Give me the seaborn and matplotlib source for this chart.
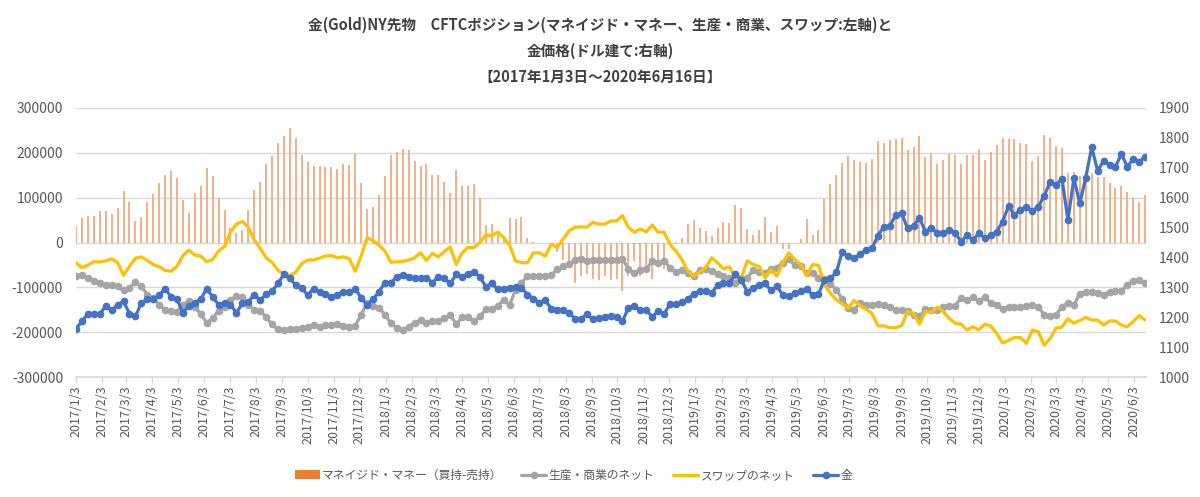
import matplotlib
matplotlib.use('Agg')

import pandas as pd
import matplotlib.pyplot as plt
import seaborn as sns
from matplotlib.patches import Patch
from matplotlib.lines import Line2D

# 週次データ 2017/1/3 ～ 2020/6/16 (181週)
dates = pd.date_range("2017-01-03", periods=181, freq="7D")

# マネイジド・マネー（買持-売持）
money_mgr = [
    35000, 55000, 59000, 59000, 70000, 70000, 64000, 78000, 114000, 90000,
    47000, 56000, 90000, 109000, 133000, 151000, 160000, 143000, 95000, 65000,
    110000, 125000, 166000, 149000, 99000, 73000, 32000, 22000, 28000, 73000,
    118000, 135000, 176000, 193000, 221000, 237000, 255000, 234000, 196000, 179000,
    171000, 170000, 169000, 168000, 165000, 176000, 172000, 197000, 133000, 75000,
    80000, 107000, 148000, 195000, 201000, 209000, 207000, 182000, 171000, 175000,
    150000, 151000, 135000, 111000, 161000, 126000, 125000, 131000, 99000, 38000,
    42000, 17000, 7000, 54000, 52000, 56000, 11000, 1000, 0, -1000,
    -5000, -22000, -38000, -52000, -90000, -75000, -71000, -81000, -83000, -75000,
    -83000, -81000, -109000, -75000, -41000, -75000, -68000, -81000, -38000, -60000,
    -5000, 2000, 10000, 42000, 50000, 32000, 25000, 14000, 32000, 45000,
    43000, 83000, 78000, 31000, 16000, 29000, 57000, 24000, 37000, -15000,
    -15000, 0, 8000, 53000, 16000, 27000, 97000, 130000, 150000, 177000,
    193000, 183000, 180000, 178000, 186000, 226000, 222000, 229000, 230000, 232000,
    206000, 212000, 238000, 190000, 200000, 176000, 185000, 198000, 196000, 176000,
    195000, 195000, 208000, 183000, 201000, 218000, 233000, 230000, 231000, 223000,
    220000, 182000, 194000, 239000, 232000, 215000, 211000, 155000, 157000, 148000,
    150000, 154000, 146000, 146000, 133000, 122000, 126000, 113000, 99000, 90000,
    105000,
]

# 生産・商業のネット
producer_net = [
    -75000, -73000, -79000, -86000, -90000, -94000, -94000, -98000, -107000, -101000,
    -89000, -98000, -116000, -124000, -139000, -150000, -152000, -154000, -139000, -131000,
    -143000, -160000, -179000, -169000, -152000, -143000, -129000, -119000, -122000, -139000,
    -150000, -152000, -167000, -182000, -194000, -195000, -193000, -192000, -191000, -188000,
    -184000, -188000, -184000, -184000, -182000, -186000, -188000, -186000, -161000, -135000,
    -141000, -145000, -161000, -180000, -191000, -195000, -188000, -179000, -173000, -179000,
    -175000, -175000, -169000, -161000, -182000, -167000, -167000, -176000, -165000, -149000,
    -149000, -141000, -128000, -139000, -105000, -90000, -75000, -74000, -74000, -74000,
    -73000, -60000, -53000, -49000, -38000, -36000, -41000, -38000, -38000, -40000,
    -40000, -40000, -36000, -60000, -68000, -62000, -60000, -41000, -45000, -41000,
    -56000, -66000, -62000, -68000, -75000, -62000, -60000, -64000, -71000, -75000,
    -79000, -90000, -79000, -79000, -62000, -65000, -68000, -59000, -56000, -45000,
    -36000, -51000, -53000, -68000, -68000, -79000, -81000, -92000, -105000, -126000,
    -145000, -150000, -135000, -139000, -139000, -137000, -140000, -144000, -150000, -150000,
    -153000, -161000, -165000, -149000, -150000, -150000, -144000, -141000, -141000, -124000,
    -129000, -122000, -131000, -122000, -135000, -139000, -149000, -144000, -143000, -144000,
    -141000, -139000, -143000, -161000, -165000, -161000, -143000, -135000, -139000, -114000,
    -111000, -110000, -113000, -116000, -111000, -109000, -109000, -94000, -85000, -83000,
    -90000,
]

# スワップのネット
swap_net = [
    -45000, -56000, -50000, -43000, -43000, -41000, -36000, -45000, -73000, -53000,
    -35000, -32000, -40000, -49000, -54000, -62000, -64000, -53000, -29000, -17000,
    -28000, -30000, -43000, -38000, -19000, -9000, 23000, 41000, 47000, 34000,
    6000, -13000, -34000, -44000, -62000, -70000, -74000, -66000, -47000, -39000,
    -39000, -35000, -30000, -29000, -34000, -32000, -36000, -64000, -30000, 11000,
    4000, -6000, -19000, -44000, -43000, -42000, -39000, -34000, -23000, -40000,
    -24000, -32000, -20000, -10000, -49000, -23000, -11000, -11000, 0, 17000,
    15000, 23000, 11000, -6000, -41000, -45000, -45000, -23000, -23000, -30000,
    -4000, -11000, 8000, 26000, 34000, 35000, 34000, 45000, 41000, 41000,
    48000, 48000, 60000, 34000, 23000, 30000, 24000, 39000, 23000, 23000,
    -4000, -19000, -38000, -64000, -75000, -66000, -56000, -34000, -45000, -59000,
    -54000, -79000, -79000, -41000, -49000, -53000, -79000, -60000, -75000, -45000,
    -23000, -38000, -49000, -74000, -49000, -51000, -94000, -113000, -128000, -137000,
    -146000, -129000, -141000, -149000, -158000, -186000, -186000, -190000, -190000, -185000,
    -154000, -158000, -182000, -154000, -156000, -144000, -154000, -169000, -180000, -182000,
    -195000, -188000, -195000, -182000, -186000, -203000, -224000, -218000, -212000, -212000,
    -225000, -195000, -199000, -229000, -214000, -191000, -188000, -170000, -180000, -174000,
    -167000, -173000, -173000, -184000, -175000, -175000, -184000, -188000, -176000, -163000,
    -173000,
]

# 金価格 (ドル建て)
gold = [
    1162, 1186, 1212, 1212, 1210, 1238, 1223, 1242, 1253, 1212,
    1203, 1248, 1260, 1260, 1274, 1296, 1268, 1260, 1215, 1238,
    1249, 1260, 1296, 1268, 1242, 1248, 1242, 1215, 1246, 1251,
    1276, 1257, 1277, 1287, 1313, 1344, 1330, 1307, 1298, 1274,
    1296, 1285, 1277, 1268, 1276, 1285, 1283, 1296, 1265, 1240,
    1260, 1285, 1316, 1316, 1335, 1341, 1335, 1330, 1332, 1332,
    1316, 1335, 1330, 1313, 1343, 1335, 1346, 1352, 1335, 1302,
    1313, 1293, 1293, 1299, 1302, 1298, 1276, 1262, 1249, 1257,
    1229, 1225, 1225, 1215, 1195, 1195, 1210, 1193, 1198, 1200,
    1203, 1200, 1186, 1232, 1237, 1223, 1225, 1201, 1220, 1212,
    1243, 1243, 1251, 1260, 1279, 1287, 1288, 1281, 1307, 1315,
    1315, 1343, 1326, 1285, 1298, 1307, 1313, 1290, 1304, 1274,
    1270, 1281, 1287, 1296, 1274, 1277, 1326, 1330, 1350, 1419,
    1404, 1397, 1410, 1425, 1430, 1473, 1503, 1505, 1542, 1548,
    1497, 1505, 1533, 1486, 1500, 1481, 1483, 1492, 1483, 1453,
    1475, 1458, 1481, 1464, 1475, 1486, 1520, 1572, 1542, 1559,
    1570, 1555, 1570, 1606, 1652, 1643, 1663, 1525, 1665, 1581,
    1667, 1769, 1690, 1723, 1710, 1704, 1746, 1704, 1729, 1721,
    1736,
]

series_names = ["マネイジド・マネー（買持-売持）", "生産・商業のネット", "スワップのネット", "金"]
title_lines = [
    "金(Gold)NY先物　CFTCポジション(マネイジド・マネー、生産・商業、スワップ:左軸)と",
    "金価格(ドル建て:右軸)",
    "【2017年1月3日～2020年6月16日】",
]

C_ORANGE = "#ED7D31"
C_BAR = "#F4A677"
C_GRAY = "#A5A5A5"
C_YELLOW = "#FFC000"
C_BLUE = "#4472C4"
C_TEXT = "#595959"

sns.set_theme(style="white")
plt.rcParams['font.family'] = ['Noto Sans CJK JP', 'DejaVu Sans']
plt.rcParams['axes.unicode_minus'] = False

df = pd.DataFrame({"date": dates, "mm": money_mgr, "prod": producer_net,
                   "swap": swap_net, "gold": gold})

fig = plt.figure(figsize=(12, 4.97), dpi=100)
ax = fig.add_axes([0.063, 0.2414, 0.892, 0.5413])
ax2 = ax.twinx()

# 棒 (マネイジド・マネー) - 日付軸上の細い棒
ax.vlines(df["date"], 0, df["mm"], color=C_BAR, linewidth=1.25, zorder=2)

# 線 (生産・商業, スワップ)
sns.lineplot(data=df, x="date", y="prod", ax=ax, color=C_GRAY, linewidth=2.3,
             marker="o", markersize=5.5, markeredgewidth=0, zorder=3)
sns.lineplot(data=df, x="date", y="swap", ax=ax, color=C_YELLOW, linewidth=2.3, zorder=4)

# 金 (右軸)
sns.lineplot(data=df, x="date", y="gold", ax=ax2, color=C_BLUE, linewidth=2.3,
             marker="o", markersize=5.5, markeredgewidth=0, zorder=5)

# 軸設定
ax.set_ylim(-300000, 300000)
ax.set_yticks(range(-300000, 300001, 100000))
ax.set_yticklabels([str(v) for v in range(-300000, 300001, 100000)])
ax2.set_ylim(1000, 1900)
ax2.set_yticks(range(1000, 1901, 100))

ax.set_xlim(pd.Timestamp("2017-01-02 12:00"), pd.Timestamp("2020-06-17"))
ticks = pd.date_range("2017-01-01", "2020-06-01", freq="MS") + pd.Timedelta(days=2)
ax.set_xticks(ticks)
ax.set_xticklabels([f"{d.year}/{d.month}/{d.day}" for d in ticks], rotation=90)

ax.grid(axis="y", color="#D9D9D9", linewidth=1)
ax.set_axisbelow(True)
for a in (ax, ax2):
    for s in ("top", "left", "right", "bottom"):
        a.spines[s].set_visible(False)
    a.set_xlabel("")
    a.set_ylabel("")
ax.spines["bottom"].set_visible(True)
ax.spines["bottom"].set_color("#D9D9D9")

ax.tick_params(axis="y", length=0, pad=9, labelsize=10, labelcolor=C_TEXT)
ax2.tick_params(axis="y", length=0, pad=9, labelsize=10, labelcolor=C_TEXT)
ax.tick_params(axis="x", bottom=True, length=4, width=1, color="#D9D9D9",
               pad=2, labelsize=9, labelcolor=C_TEXT)

# タイトル
for k, line in enumerate(title_lines):
    fig.text(0.5, 1 - (25 + 26 * k) / 497, line, ha="center", va="center",
             fontsize=10.5, fontweight="bold", color="#404040")

# 凡例
handles = [
    Patch(facecolor=C_ORANGE, edgecolor="none"),
    Line2D([], [], color=C_GRAY, linewidth=2.3, marker="o", markersize=5.5, markeredgewidth=0),
    Line2D([], [], color=C_YELLOW, linewidth=2.3),
    Line2D([], [], color=C_BLUE, linewidth=2.3, marker="o", markersize=5.5, markeredgewidth=0),
]
fig.legend(handles, series_names, loc="center", bbox_to_anchor=(0.478, 0.044), ncol=4,
           frameon=False, fontsize=8.5, labelcolor=C_TEXT, handlelength=2.1,
           columnspacing=1.6, handletextpad=0.2)

fig.savefig("out.png", dpi=100)
